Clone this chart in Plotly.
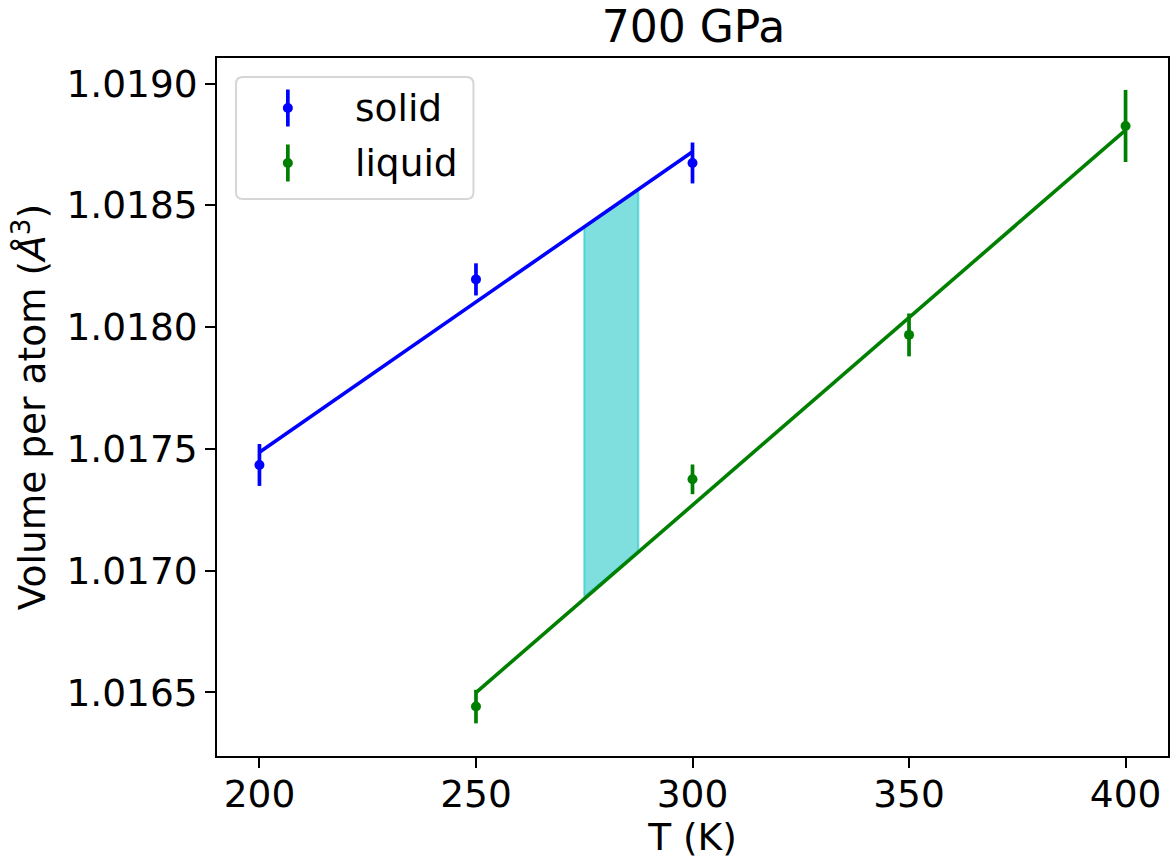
import plotly.graph_objects as go

# ---- data ----
solid_T = [200, 250, 300]
solid_V = [1.017434, 1.018196, 1.018674]
solid_err = [0.000086, 0.000066, 0.000084]

liquid_T = [250, 300, 350, 400]
liquid_V = [1.016442, 1.017375, 1.017968, 1.018826]
liquid_err = [0.000069, 0.000061, 0.000088, 0.000148]

solid_fit_T = [200, 300]
solid_fit_V = [1.017486, 1.018720]
liquid_fit_T = [250, 400]
liquid_fit_V = [1.016499, 1.018809]

fill_T = [275, 287.5]
fill_upper = [1.018410, 1.018563]
fill_lower = [1.016893, 1.017078]

y_ticks = [1.0165, 1.0170, 1.0175, 1.0180, 1.0185, 1.0190]
x_ticks = [200, 250, 300, 350, 400]

FONT = "DejaVu Sans"
FS = 37.5
W, H = 1173, 859
ML, MR, MT, MB = 217, 3, 58, 103
PW, PH = W - ML - MR, H - MT - MB


def px(x):
    return (x - ML) / PW


def py(y):
    return (H - MB - y) / PH


fig = go.Figure()

# shaded region between the two fits
fig.add_trace(go.Scatter(
    x=[fill_T[0], fill_T[1], fill_T[1], fill_T[0], fill_T[0]],
    y=[fill_lower[0], fill_lower[1], fill_upper[1], fill_upper[0], fill_lower[0]],
    mode="lines", fill="toself", fillcolor="rgba(0,191,191,0.5)",
    line=dict(color="rgba(0,191,191,0.5)", width=2), showlegend=False, hoverinfo="skip"))

# fit lines
fig.add_trace(go.Scatter(x=solid_fit_T, y=solid_fit_V, mode="lines",
                         line=dict(color="#0000ff", width=3.6), showlegend=False))
fig.add_trace(go.Scatter(x=liquid_fit_T, y=liquid_fit_V, mode="lines",
                         line=dict(color="#008000", width=3.6), showlegend=False))

# data with error bars
fig.add_trace(go.Scatter(x=solid_T, y=solid_V, mode="markers", name="solid",
                         marker=dict(color="#0000ff", size=10),
                         error_y=dict(type="data", array=solid_err, color="#0000ff",
                                      thickness=3.7, width=0),
                         showlegend=False))
fig.add_trace(go.Scatter(x=liquid_T, y=liquid_V, mode="markers", name="liquid",
                         marker=dict(color="#008000", size=10),
                         error_y=dict(type="data", array=liquid_err, color="#008000",
                                      thickness=3.7, width=0),
                         showlegend=False))

# ---- manual legend (matplotlib style) ----
shapes = []
bx0, bx1, by0, by1 = 236, 474, 77, 199
r = 7
rx, ry = r / PW, r / PH
X0, X1, Y0, Y1 = px(bx0), px(bx1), py(by1), py(by0)
path = (f"M {X0+rx},{Y0} L {X1-rx},{Y0} Q {X1},{Y0} {X1},{Y0+ry} "
        f"L {X1},{Y1-ry} Q {X1},{Y1} {X1-rx},{Y1} L {X0+rx},{Y1} "
        f"Q {X0},{Y1} {X0},{Y1-ry} L {X0},{Y0+ry} Q {X0},{Y0} {X0+rx},{Y0} Z")
shapes.append(dict(type="path", xref="paper", yref="paper", path=path,
                   line=dict(color="#d6d6d6", width=2), fillcolor="rgba(255,255,255,0.8)",
                   layer="above"))

legend_items = [("solid", "#0000ff", 108), ("liquid", "#008000", 163)]
annotations = []
for label, col, yc in legend_items:
    shapes.append(dict(type="line", xref="paper", yref="paper",
                       xsizemode="pixel", ysizemode="pixel",
                       xanchor=px(288), yanchor=py(yc), x0=0, x1=0, y0=-18.5, y1=18.5,
                       line=dict(color=col, width=3.7), layer="above"))
    shapes.append(dict(type="circle", xref="paper", yref="paper",
                       xsizemode="pixel", ysizemode="pixel",
                       xanchor=px(288), yanchor=py(yc), x0=-5, x1=5, y0=-5, y1=5,
                       line=dict(color=col, width=0), fillcolor=col, layer="above"))
    annotations.append(dict(text=label, xref="paper", yref="paper", x=px(353), y=py(yc),
                            xanchor="left", yanchor="middle", showarrow=False,
                            font=dict(family=FONT, size=FS, color="black")))

fig.update_layout(
    width=W, height=H,
    margin=dict(l=ML, r=MR, t=MT, b=MB),
    paper_bgcolor="white", plot_bgcolor="white",
    font=dict(family=FONT, size=FS, color="black"),
    title=dict(text="700 GPa", x=(ML + PW / 2) / W, xanchor="center",
               yref="container", y=1 - 27 / H, yanchor="middle",
               font=dict(family=FONT, size=44, color="black")),
    xaxis=dict(range=[190.2, 409.8], tickvals=x_ticks, ticks="outside", ticklen=10,
               tickwidth=1.7, tickcolor="black", showline=True, linecolor="black",
               linewidth=1.7, mirror=True, showgrid=False, zeroline=False,
               tickfont=dict(family=FONT, size=FS), ticklabelstandoff=-6,
               title=dict(text="T (K)", standoff=2, font=dict(family=FONT, size=FS))),
    yaxis=dict(range=[1.016239, 1.019105], tickvals=y_ticks, tickformat=".4f",
               ticks="outside", ticklen=10, tickwidth=1.7, tickcolor="black",
               showline=True, linecolor="black", linewidth=1.7, mirror=True,
               showgrid=False, zeroline=False, tickfont=dict(family=FONT, size=FS),
               title=dict(text="Volume per atom (<i>Å</i><sup>3</sup>)", standoff=9,
                          font=dict(family=FONT, size=FS))),
    shapes=shapes, annotations=annotations,
    showlegend=False,
)

fig.write_html("out.html", config={"displayModeBar": False},
               post_script="document.body.style.margin='0';document.body.style.overflow='hidden';")
